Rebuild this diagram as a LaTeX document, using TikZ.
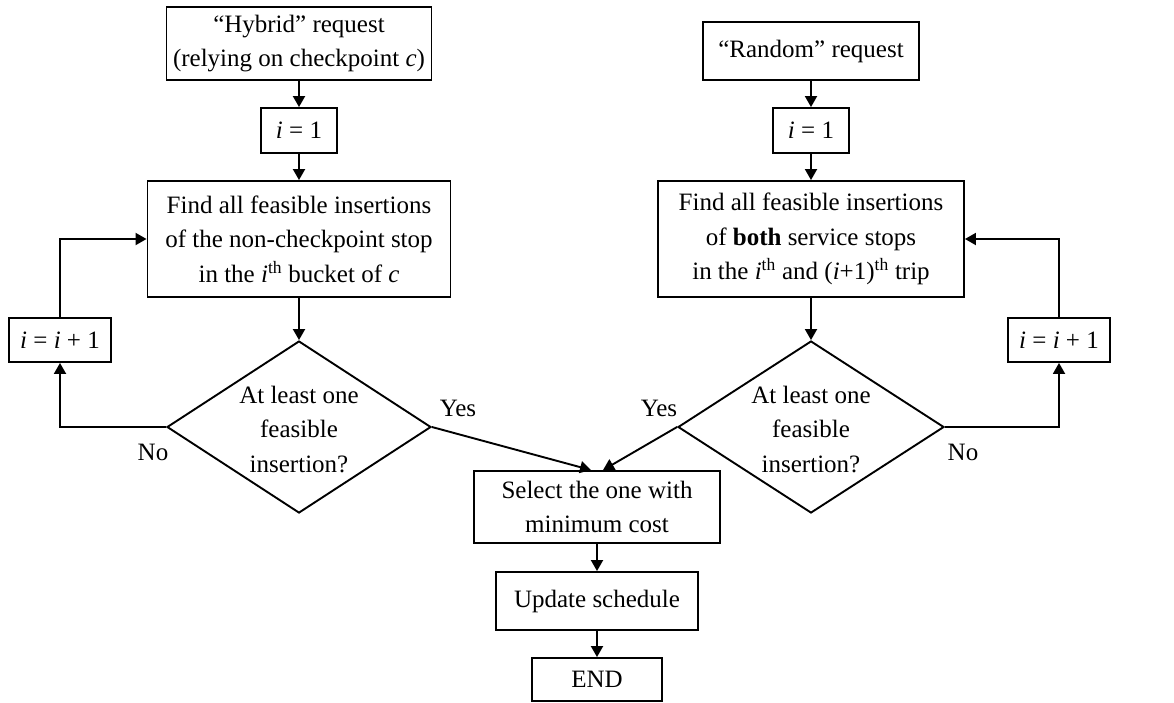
\documentclass[tikz,border=0pt]{standalone}
\usepackage{fontspec}
\setmainfont{Liberation Serif}
\usetikzlibrary{shapes.geometric,arrows.meta,calc}
\tikzset{
  box/.style={draw,line width=1.9pt,inner sep=0pt,align=center},
  dia/.style={draw,diamond,line width=1.9pt,inner sep=0pt},
  arr/.style={line width=1.9pt,-{Triangle[length=11pt,width=12pt]}},
  lbl/.style={inner sep=0pt},
}
\begin{document}
\begin{tikzpicture}[x=1pt,y=-1pt,font=\fontsize{25}{34.5}\selectfont]
\useasboundingbox (0,0) rectangle (1174,702);
\fill[white] (0,0) rectangle (1174,702);
% left branch
\node[box,minimum width=265,minimum height=73] (hyb) at (299,43.5) {``Hybrid'' request\\(relying on checkpoint \textit{c})};
\node[box,minimum width=76,minimum height=45] (ia) at (299,130.5) {\textit{i} = 1};
\node[box,minimum width=303,minimum height=116] (fa) at (299,239) {Find all feasible insertions\\of the non-checkpoint stop\\in the \textit{i}\textsuperscript{th} bucket of \textit{c}};
\node[dia,minimum width=264,minimum height=172] (da) at (299,427) {};
\node[lbl,align=center] (dat) at (299,429) {At least one\\feasible\\insertion?};
\node[box,minimum width=102,minimum height=44] (inca) at (60,340) {\textit{i} = \textit{i} + 1};
% right branch
\node[box,minimum width=216,minimum height=58] (ran) at (811,51) {``Random'' request};
\node[box,minimum width=76,minimum height=45] (ib) at (811,130.5) {\textit{i} = 1};
\node[box,minimum width=306,minimum height=116] (fb) at (811,239) {Find all feasible insertions\\of \textbf{both} service stops\\in the \textit{i}\textsuperscript{th} and (\textit{i}+1)\textsuperscript{th} trip};
\node[dia,minimum width=266,minimum height=172] (db) at (811,427) {};
\node[lbl,align=center] (dbt) at (811,429) {At least one\\feasible\\insertion?};
\node[box,minimum width=102,minimum height=44] (incb) at (1059,340) {\textit{i} = \textit{i} + 1};
% common
\node[box,minimum width=246,minimum height=72] (sel) at (597,507) {Select the one with\\minimum cost};
\node[box,minimum width=202,minimum height=58] (upd) at (597,601) {Update schedule};
\node[box,minimum width=130,minimum height=43] (end) at (597,679.5) {END};
% labels
\node[lbl] (noa) at (153,452) {No};
\node[lbl] (yesa) at (458,408) {Yes};
\node[lbl] (yesb) at (659,408) {Yes};
\node[lbl] (nob) at (963,452) {No};
% arrows
\draw[arr] (hyb) -- (ia);
\draw[arr] (ia) -- (fa);
\draw[arr] (fa.south) -- (da.north);
\draw[arr] (da.west) -| (inca.south);
\draw[arr] (inca.north) |- (fa.west);
\draw[arr] (ran) -- (ib);
\draw[arr] (ib) -- (fb);
\draw[arr] (fb.south) -- (db.north);
\draw[arr] (db.east) -| (incb.south);
\draw[arr] (incb.north) |- (fb.east);
\draw[arr] (da.east) -- ($(sel.north)+(-6,0)$);
\draw[arr] (db.west) -- ($(sel.north)+(6,0)$);
\draw[arr] (sel) -- (upd);
\draw[arr] (upd) -- (end);
\end{tikzpicture}
\end{document}
